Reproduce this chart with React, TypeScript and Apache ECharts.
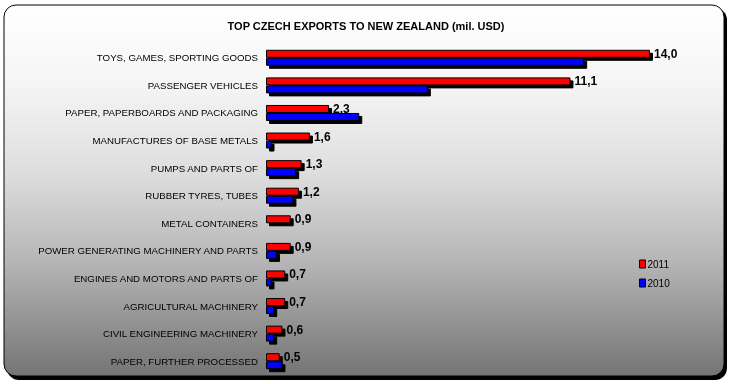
import React, { useEffect, useRef } from "react";
import * as echarts from "echarts";

const categories = [
  "TOYS, GAMES, SPORTING GOODS",
  "PASSENGER VEHICLES",
  "PAPER, PAPERBOARDS AND PACKAGING",
  "MANUFACTURES OF BASE METALS",
  "PUMPS AND PARTS OF",
  "RUBBER TYRES, TUBES",
  "METAL CONTAINERS",
  "POWER GENERATING MACHINERY AND PARTS",
  "ENGINES AND MOTORS AND PARTS OF",
  "AGRICULTURAL MACHINERY",
  "CIVIL ENGINEERING MACHINERY",
  "PAPER, FURTHER PROCESSED",
];
const values2011 = [14.0, 11.1, 2.3, 1.6, 1.3, 1.2, 0.9, 0.9, 0.7, 0.7, 0.6, 0.5];
const values2010 = [11.6, 5.9, 3.4, 0.2, 1.1, 1.0, 0, 0.4, 0.2, 0.3, 0.3, 0.6];
const seriesNames = ["2011", "2010"];
const title = "TOP CZECH EXPORTS TO NEW ZEALAND (mil. USD)";

const FONT = "'Liberation Sans', Arial, sans-serif";

export default function App() {
  const ref = useRef<HTMLDivElement>(null);
  useEffect(() => {
    if (!ref.current) return;
    const chart = echarts.init(ref.current, undefined, { renderer: "svg" });
    const barStyle = (color: string) => ({
      color,
      borderColor: "#000",
      borderWidth: 1,
      shadowColor: "#000",
      shadowBlur: 0,
      shadowOffsetX: 3,
      shadowOffsetY: 3,
    });
    chart.setOption({
      animation: false,
      graphic: [
        {
          type: "rect",
          z: -10,
          silent: true,
          shape: { x: 7, y: 8, width: 720, height: 372, r: 12 },
          style: { fill: "#000" },
        },
        {
          type: "rect",
          z: -9,
          silent: true,
          shape: { x: 4, y: 5, width: 720, height: 371, r: 12 },
          style: {
            fill: new echarts.graphic.LinearGradient(0, 0, 0, 1, [
              { offset: 0, color: "#ffffff" },
              { offset: 0.2, color: "#f6f6f6" },
              { offset: 0.45, color: "#dedede" },
              { offset: 0.7, color: "#b4b4b4" },
              { offset: 1, color: "#747474" },
            ]),
            stroke: "#000",
            lineWidth: 1,
          },
        },
      ],
      title: {
        text: title,
        left: "center",
        top: 15,
        textStyle: { fontFamily: FONT, fontSize: 11, fontWeight: "bold", color: "#000" },
      },
      legend: {
        data: seriesNames,
        orient: "vertical",
        left: 634,
        top: 254,
        itemWidth: 6,
        itemHeight: 8,
        itemGap: 9,
        icon: "rect",
        textStyle: { fontFamily: FONT, fontSize: 10, color: "#000", padding: [0, 0, 0, -3] },
        itemStyle: { borderColor: "#000", borderWidth: 1, shadowBlur: 0, shadowOffsetX: 0, shadowOffsetY: 0, shadowColor: "transparent" },
      },
      grid: { left: 266, right: 82, top: 44, bottom: 9, containLabel: false },
      xAxis: {
        type: "value",
        min: 0,
        max: 14,
        show: false,
      },
      yAxis: {
        type: "category",
        data: categories,
        inverse: true,
        axisLine: { show: false },
        axisTick: { show: false },
        axisLabel: { fontFamily: FONT, fontSize: 9.7, color: "#000", margin: 8 },
      },
      series: [
        {
          name: "2011",
          type: "bar",
          data: values2011,
          barWidth: 8,
          barGap: "0%",
          itemStyle: barStyle("#ff0000"),
          label: {
            show: true,
            position: "right",
            distance: 4,
            fontFamily: FONT,
            fontSize: 12,
            fontWeight: "bold",
            color: "#000",
            formatter: (p: any) => Number(p.value).toFixed(1).replace(".", ","),
          },
        },
        {
          name: "2010",
          type: "bar",
          data: values2010,
          barWidth: 8,
          barGap: "0%",
          itemStyle: barStyle("#0000ff"),
        },
      ],
    });
    return () => chart.dispose();
  }, []);
  return (
    <div
      ref={ref}
      style={{ position: "fixed", left: 0, top: 0, width: 732, height: 384 }}
    />
  );
}
